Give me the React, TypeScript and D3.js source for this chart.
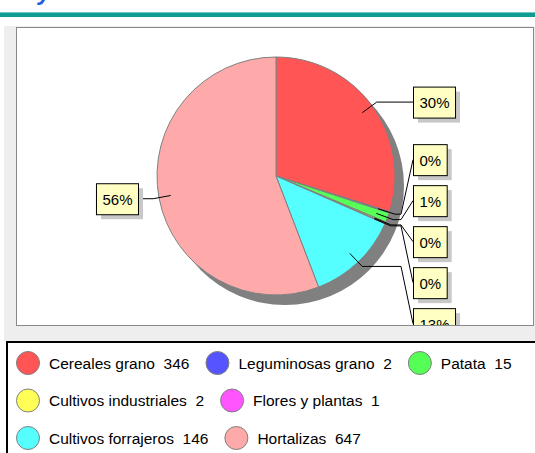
import React, { useRef, useEffect } from 'react';
import * as d3 from 'd3';

const categories = ['Cereales grano', 'Leguminosas grano', 'Patata', 'Cultivos industriales', 'Flores y plantas', 'Cultivos forrajeros', 'Hortalizas'];
const values = [346, 2, 15, 2, 1, 146, 647];
const colors = ['#ff5555', '#5555ff', '#55ff55', '#ffff55', '#ff55ff', '#55ffff', '#ffaaaa'];

function App() {
    const width = 535, height = 453;
    const svgRef = useRef<SVGSVGElement>(null);

    const font = 'Arial, "Liberation Sans", sans-serif';
    const cx = 276, cy = 176, R = 119;

    useEffect(() => {
        drawSvg();
    }, []);

    const drawSvg = () => {
        const svg = d3.select(svgRef.current);
        svg.selectAll('*').remove();

        // header remains: cut title glyph + teal rule
        svg.append('text')
            .attr('x', 38).attr('y', 0)
            .attr('font-family', font).attr('font-size', 24)
            .attr('font-style', 'italic').attr('font-weight', 'bold')
            .attr('fill', '#2a5bdd')
            .text('y');
        svg.append('rect').attr('x', 0).attr('y', 12).attr('width', width).attr('height', 5).attr('fill', '#109b93');
        svg.append('rect').attr('x', 0).attr('y', 12).attr('width', width).attr('height', 1).attr('fill', '#70c8c2');

        // panel + plot area
        svg.append('rect').attr('x', 4).attr('y', 26).attr('width', width).attr('height', 315).attr('fill', '#eeeeee');
        svg.append('rect').attr('x', 16.5).attr('y', 27.5).attr('width', 517).attr('height', 298)
            .attr('fill', '#ffffff').attr('stroke', '#888888');

        svg.append('clipPath').attr('id', 'plotClip')
            .append('rect').attr('x', 17).attr('y', 28).attr('width', 516).attr('height', 297);

        const g = svg.append('g').attr('clip-path', 'url(#plotClip)');

        const total = d3.sum(values);
        const pie = d3.pie<number>().sort(null).value(d => d);
        const arcs = pie(values);
        const arc = d3.arc<d3.PieArcDatum<number>>().innerRadius(0).outerRadius(R);

        // shadow
        g.append('circle').attr('cx', cx + 9).attr('cy', cy + 10).attr('r', R).attr('fill', '#808080');

        g.append('g').attr('transform', `translate(${cx},${cy})`)
            .selectAll('path').data(arcs).enter().append('path')
            .attr('d', arc)
            .attr('fill', (d, i) => colors[i])
            .attr('stroke', '#808080')
            .attr('stroke-width', 1);

        // label layout
        const fmt = d3.format('.0%');
        const labelR = R * 1.05, innerR = R * 0.9, gap = 41, boxH = 31;
        const items = arcs.map((a, i) => {
            const mid = (a.startAngle + a.endAngle) / 2;
            return {
                i, mid,
                right: Math.sin(mid) >= 0,
                desired: cy - labelR * Math.cos(mid),
                y: 0,
                text: fmt(values[i] / total)
            };
        });

        const layoutSide = (side) => {
            const list = side.slice().sort((a, b) => a.desired - b.desired);
            // group near-coincident labels, center each group
            const groups = [];
            list.forEach(it => {
                const last = groups[groups.length - 1];
                if (last && it.desired - last[last.length - 1].desired < gap / 2) last.push(it);
                else groups.push([it]);
            });
            groups.forEach(gr => {
                const m = d3.mean(gr, d => d.desired);
                gr.forEach((it, k) => { it.y = m - (gr.length - 1) * gap / 2 + k * gap; });
            });
            for (let k = 1; k < list.length; k++) {
                list[k].y = Math.max(list[k].y, list[k - 1].y + gap);
            }
        };
        layoutSide(items.filter(d => d.right));
        layoutSide(items.filter(d => !d.right));

        const line = d3.line();
        items.forEach(it => {
            const sx = cx + innerR * Math.sin(it.mid), sy = cy - innerR * Math.cos(it.mid);
            const ex = cx + labelR * Math.sin(it.mid), ey = cy - labelR * Math.cos(it.mid);
            const hx = it.right ? cx + R + 6 : cx - R - 6;
            const bx = it.right ? cx + R + 18 : cx - R - 19;
            const pts: [number, number][] = [[sx, sy], [ex, ey]];
            if (it.right ? ex < hx : ex > hx) pts.push([hx, ey]);
            pts.push([bx, it.y]);
            g.append('path').attr('d', line(pts)).attr('fill', 'none').attr('stroke', '#000').attr('stroke-width', 1);

            const lg = g.append('g');
            const t = lg.append('text')
                .attr('font-family', font).attr('font-size', 15)
                .attr('text-anchor', 'middle')
                .attr('fill', '#000')
                .text(it.text);
            const w = (t.node() as SVGTextElement).getComputedTextLength() + 12;
            const x0 = it.right ? bx : bx - w;
            const y0 = it.y - boxH / 2;
            lg.insert('rect', 'text').attr('x', x0 + 5).attr('y', y0 + 5).attr('width', w).attr('height', boxH).attr('fill', '#c8c8c8');
            lg.insert('rect', 'text').attr('x', x0 + 0.5).attr('y', y0 + 0.5).attr('width', w).attr('height', boxH)
                .attr('fill', '#ffffc4').attr('stroke', '#000').attr('stroke-width', 1);
            t.attr('x', x0 + w / 2 + 0.5).attr('y', it.y + 6);
        });

        // legend
        svg.append('rect').attr('x', 7).attr('y', 342).attr('width', 560).attr('height', 130)
            .attr('fill', '#ffffff').attr('stroke', '#000').attr('stroke-width', 2);

        const rowYs = [363, 400.5, 438];
        let row = 0, x = 16;
        const maxX = 530;
        categories.forEach((c, i) => {
            const lg = svg.append('g');
            const t = lg.append('text')
                .attr('font-family', font).attr('font-size', 15.5)
                .attr('fill', '#000')
                .style('white-space', 'pre')
                .text(`${c}  ${values[i]}`);
            const tw = (t.node() as SVGTextElement).getComputedTextLength();
            if (x + 33 + tw > maxX && x > 16) { row += 1; x = 16; }
            const y = rowYs[row];
            lg.insert('circle', 'text').attr('cx', x + 12).attr('cy', y).attr('r', 11.5)
                .attr('fill', colors[i]).attr('stroke', '#808080').attr('stroke-width', 1);
            t.attr('x', x + 33).attr('y', y + 5.5);
            x = x + 33 + tw + 16;
        });
    };

    return (
        <div className="pieChart">
            <svg ref={svgRef} width={width} height={height} style={{ position: 'absolute', left: 0, top: 0 }} />
        </div>
    );
}

export default App;
